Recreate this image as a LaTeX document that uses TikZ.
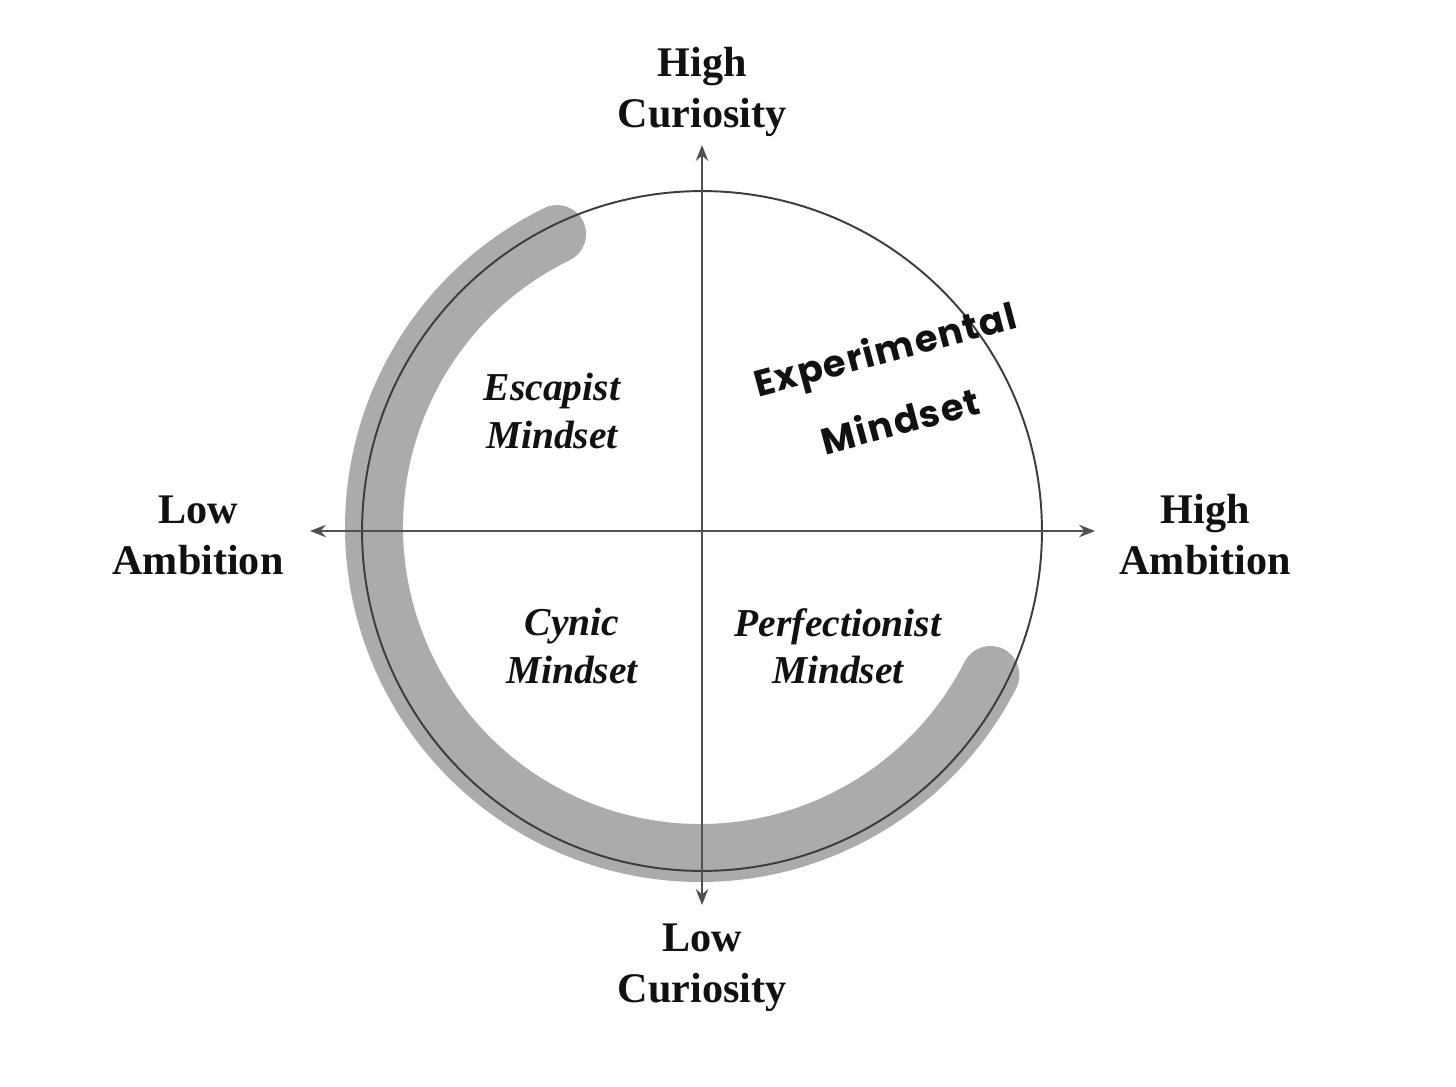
\documentclass[tikz,border=0pt]{standalone}
\usepackage{fontspec}
\setmainfont{Liberation Serif}
\newfontfamily\handfont{Poppins}[LetterSpace=4]
\usetikzlibrary{arrows.meta}
\definecolor{axisgray}{HTML}{505050}
\definecolor{ringgray}{HTML}{3C3C3C}
\definecolor{bandgray}{HTML}{ABABAB}
\definecolor{inkblack}{HTML}{111111}
\tikzset{
  axis/.style={draw=axisgray, line width=1.5pt,
    -{Stealth[length=9pt,width=7pt,inset=3pt]}},
  ring/.style={draw=ringgray, line width=1.1pt},
  band/.style={draw=bandgray, line width=33pt, line cap=round},
  axislabel/.style={align=center, text=inkblack,
    font=\fontsize{24}{29}\selectfont\bfseries},
  mindlabel/.style={align=center, text=inkblack,
    font=\fontsize{22.5}{27}\selectfont\bfseries\itshape},
  handlabel/.style={text=inkblack, rotate=15,
    font=\fontsize{21}{24}\selectfont\handfont\bfseries}
}
\begin{document}
\begin{tikzpicture}[x=0.02cm, y=-0.02cm]
  \useasboundingbox[fill=white] (0,0) rectangle (1456,1087);
  \coordinate (o) at (702,531);
  \coordinate (bc) at (700,527);
  % highlight band
  \draw[band]
    ([shift={(116:6.52cm)}]bc) arc[start angle=116, end angle=333, radius=6.52cm];
  % circle
  \draw[ring] (o) circle[radius=6.8cm];
  % axes
  \coordinate (xl) at (310,531);
  \coordinate (xr) at (1095,531);
  \coordinate (yt) at (702,145);
  \coordinate (yb) at (702,905);
  \draw[axis] (o) -- (xl);
  \draw[axis] (o) -- (xr);
  \draw[axis] (o) -- (yt);
  \draw[axis] (o) -- (yb);
  % axis labels
  \node[axislabel] (hc) at (702,92) {High\\Curiosity};
  \node[axislabel] (lc) at (702,968) {Low\\Curiosity};
  \node[axislabel] (la) at (198,535) {Low\\Ambition};
  \node[axislabel] (ha) at (1205,535) {High\\Ambition};
  % quadrant labels
  \node[mindlabel] (esc) at (552,411) {Escapist\\Mindset};
  \node[mindlabel] (cyn) at (572,646) {Cynic\\Mindset};
  \node[mindlabel] (per) at (838,646) {Perfectionist\\Mindset};
  \node[handlabel] (exp1) at (886,353) {Experimental};
  \node[handlabel] (exp2) at (900,420) {Mindset};
\end{tikzpicture}
\end{document}
